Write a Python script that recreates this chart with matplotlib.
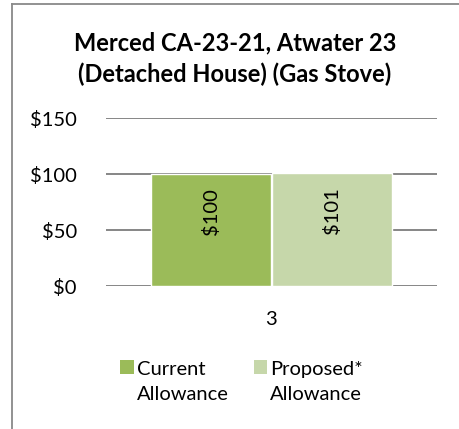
import matplotlib
matplotlib.use("Agg")
import matplotlib.pyplot as plt
from matplotlib.patches import Rectangle
from matplotlib.lines import Line2D
from matplotlib.legend_handler import HandlerPatch

categories = ["3"]
series_names = ["Current\nAllowance", "Proposed*\nAllowance"]
values = [100, 101]
value_labels = ["$100", "$101"]
yticks = [0, 50, 100, 150]
ytick_labels = ["$0", "$50", "$100", "$150"]
colors = ["#9BBB59", "#C6D7AA"]

plt.rcParams['font.family'] = ['Lato', 'DejaVu Sans']

W, H = 460, 429
fig = plt.figure(figsize=(W/100, H/100), dpi=100)

# outer border (left and top only visible)
fig.add_artist(Line2D([11.5/W, 11.5/W], [0, 1 - 3.5/H], transform=fig.transFigure,
                      color="#898989", linewidth=1.3))
fig.add_artist(Line2D([11.5/W, 1.0], [1 - 3.5/H, 1 - 3.5/H], transform=fig.transFigure,
                      color="#898989", linewidth=1.3))

ax = fig.add_axes([106/W, (H-286)/H, (437-106)/W, (286-118)/H])
bw = 0.36
offs = [-bw/2 - 0.003, bw/2 + 0.003]
bars = []
for i, (v, c, lab, name) in enumerate(zip(values, colors, value_labels, series_names)):
    b = ax.bar([offs[i]], [v], width=bw, color=c, edgecolor="white", linewidth=1.0, zorder=3, label=name)
    bars.append(b)
    ax.annotate(lab, (offs[i], v), xytext=(0, -10), textcoords="offset points",
                rotation=90, ha="center", va="top", fontsize=14.5, zorder=4)

ax.set_xlim(-0.5, 0.5)
ax.set_ylim(0, 150)
ax.set_yticks(yticks)
ax.set_yticklabels(ytick_labels, fontsize=14.5)
ax.set_xticks([0])
ax.set_xticklabels(categories, fontsize=14.5)
ax.tick_params(axis="both", length=0)
ax.tick_params(axis="y", pad=21)
ax.tick_params(axis="x", pad=18)
ax.yaxis.grid(True, color="#868686", linewidth=1.4, zorder=1)
for s in ax.spines.values():
    s.set_visible(False)

fig.text(235/W, 1 - 43/H, "Merced CA-23-21, Atwater 23", ha="center", va="center",
         fontsize=17, fontweight="bold")
fig.text(235/W, 1 - 74/H, "(Detached House) (Gas Stove)", ha="center", va="center",
         fontsize=17, fontweight="bold")

class TopHandler(HandlerPatch):
    def create_artists(self, legend, orig_handle, xdescent, ydescent, width, height, fontsize, trans):
        sz = 9.5
        r = Rectangle((xdescent + width - sz, ydescent + height + 1), sz, sz,
                      facecolor=orig_handle.get_facecolor(), edgecolor="none", transform=trans)
        return [r]

handles = [b.patches[0] for b in bars]
leg = fig.legend(handles, series_names, loc="center", bbox_to_anchor=(243/W, 1 - 382/H),
                 ncol=2, frameon=False, fontsize=14.5, handlelength=0.5, handletextpad=0.15,
                 columnspacing=1.4, handler_map={Rectangle: TopHandler()})
for t in leg.get_texts():
    t.set_linespacing(1.6)

fig.savefig("out.png", dpi=100)
